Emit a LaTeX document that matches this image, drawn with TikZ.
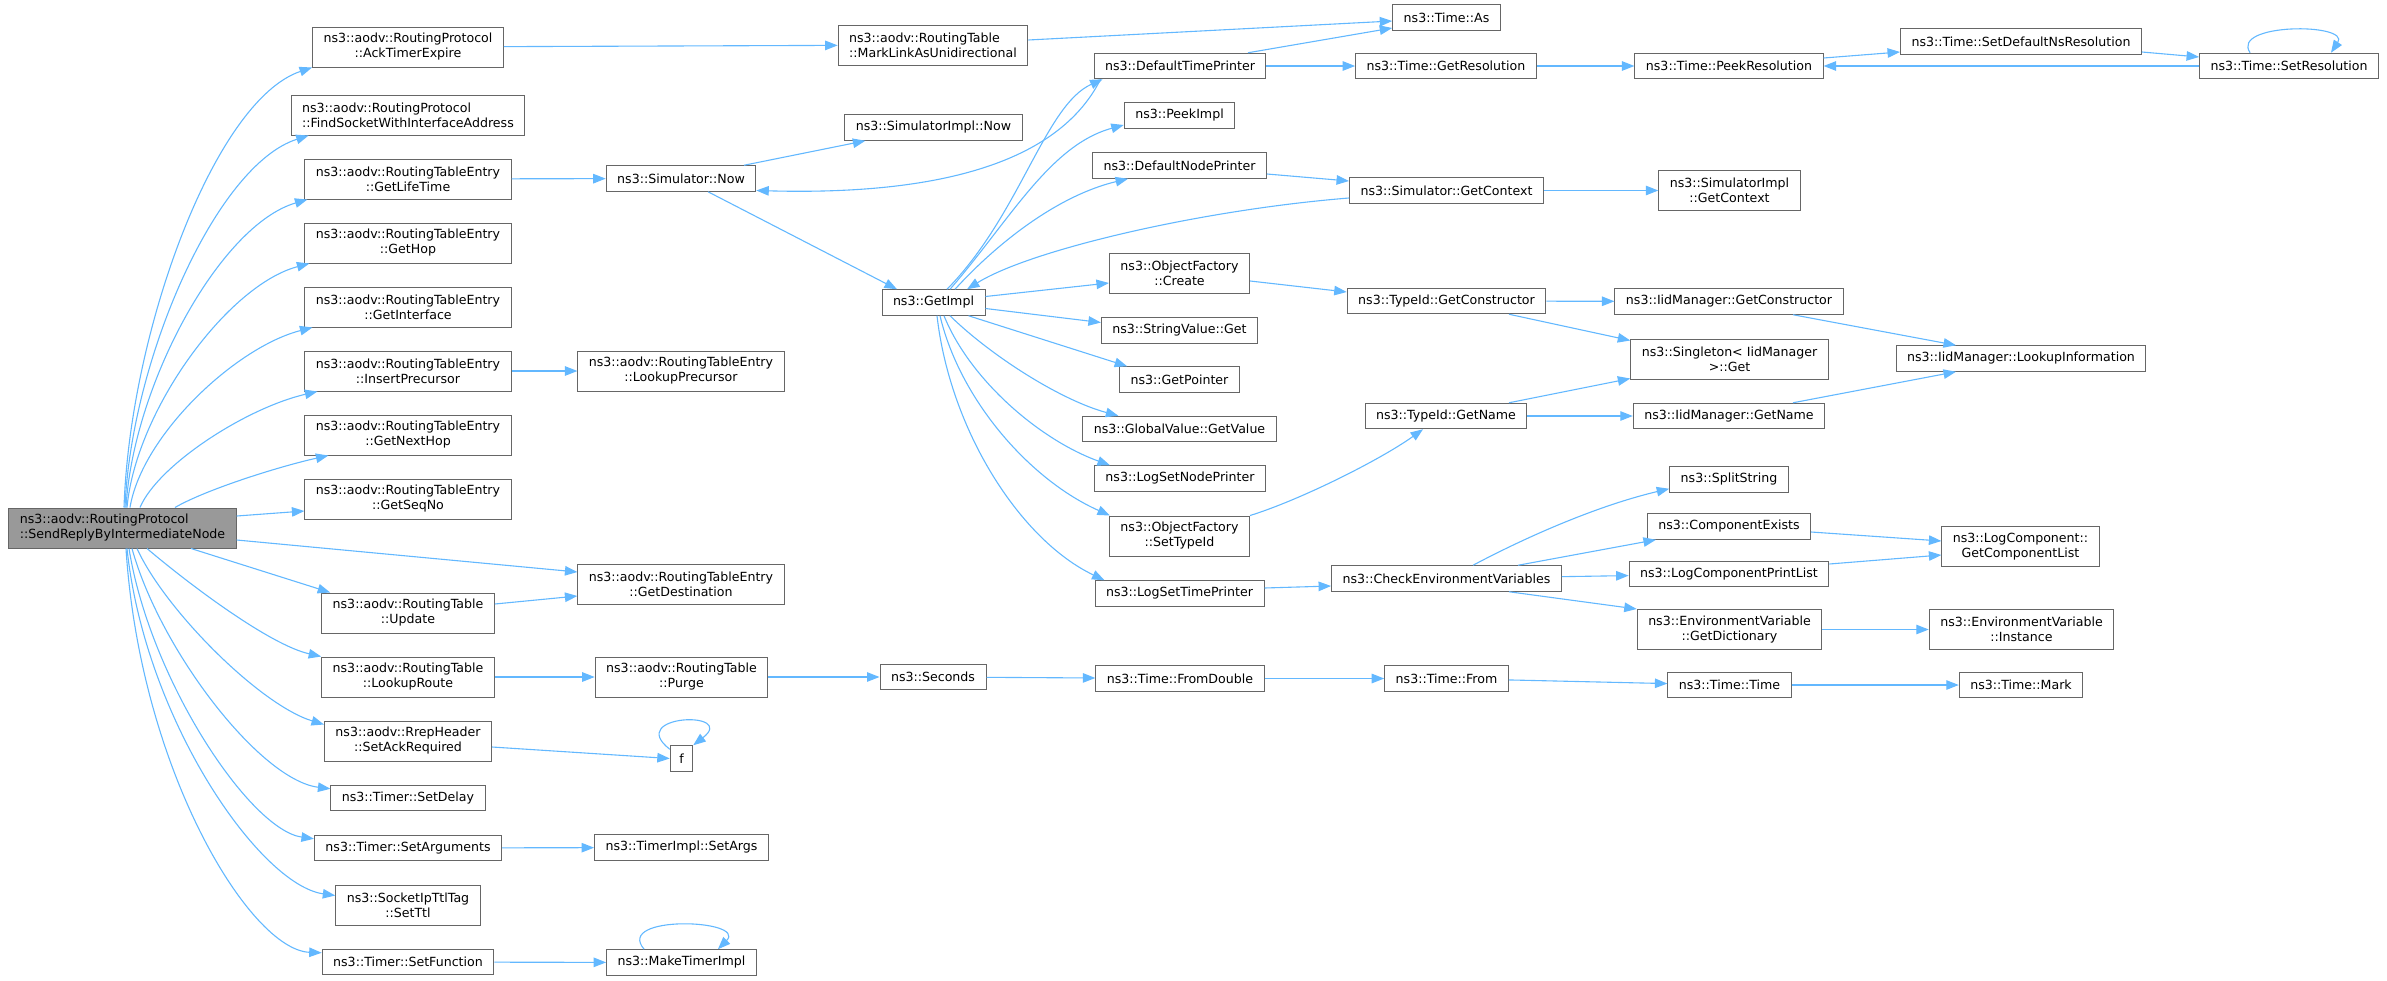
\documentclass[tikz,border=0pt]{standalone}
\usepackage{fontspec}
\setmainfont{DejaVu Sans}
\usetikzlibrary{arrows.meta}
\definecolor{edgeblue}{HTML}{63B8FF}
\definecolor{nodeborder}{HTML}{666666}
\definecolor{rootfill}{HTML}{999999}

\begin{document}
\begin{tikzpicture}[
    x=1pt, y=-1pt,
    func/.style={rectangle, draw=nodeborder, fill=white, line width=1pt, minimum height=25.5pt, inner xsep=11pt, inner ysep=2pt, align=center, font=\fontsize{12.6}{15}\selectfont},
    func2/.style={func, minimum height=40pt},
    leftfunc/.style={func2, align=left},
    focus/.style={leftfunc, fill=rootfill},
    arrow/.style={-{Triangle[length=12.5pt, width=9.5pt]}, draw=edgeblue, line width=1.1pt}
]
\useasboundingbox (0,0) rectangle (2387,980);

% Root function
\node[focus] (root) at (122.5,528) {ns3::aodv::RoutingProtocol\\::SendReplyByIntermediateNode};

% Direct callees
\node[func2] (ackexp) at (408,47) {ns3::aodv::RoutingProtocol\\::AckTimerExpire};
\node[leftfunc] (findsock) at (408,115) {ns3::aodv::RoutingProtocol\\::FindSocketWithInterfaceAddress};
\node[func2] (lifetime) at (408,179) {ns3::aodv::RoutingTableEntry\\::GetLifeTime};
\node[func2] (gethop) at (408,243) {ns3::aodv::RoutingTableEntry\\::GetHop};
\node[func2] (getif) at (408,307) {ns3::aodv::RoutingTableEntry\\::GetInterface};
\node[func2] (insprec) at (408,371) {ns3::aodv::RoutingTableEntry\\::InsertPrecursor};
\node[func2] (nexthop) at (408,435) {ns3::aodv::RoutingTableEntry\\::GetNextHop};
\node[func2] (seqno) at (408,499) {ns3::aodv::RoutingTableEntry\\::GetSeqNo};
\node[func2] (update) at (408,613) {ns3::aodv::RoutingTable\\::Update};
\node[func2] (lookuproute) at (408,677) {ns3::aodv::RoutingTable\\::LookupRoute};
\node[func2] (setack) at (408,741) {ns3::aodv::RrepHeader\\::SetAckRequired};
\node[func] (setdelay) at (408,798) {ns3::Timer::SetDelay};
\node[func] (setargs) at (408,848) {ns3::Timer::SetArguments};
\node[func2] (setttl) at (408,905) {ns3::SocketIpTtlTag\\::SetTtl};
\node[func] (setfunc) at (408,962) {ns3::Timer::SetFunction};

% Second level
\node[leftfunc] (marklink) at (933,45) {ns3::aodv::RoutingTable\\::MarkLinkAsUnidirectional};
\node[func] (simnow) at (681,178.5) {ns3::Simulator::Now};
\node[func] (simimplnow) at (933.5,127.5) {ns3::SimulatorImpl::Now};
\node[func] (getimpl) at (933.5,302.5) {ns3::GetImpl};
\node[func2] (lookupprec) at (681,371) {ns3::aodv::RoutingTableEntry\\::LookupPrecursor};
\node[func2] (getdest) at (681,584) {ns3::aodv::RoutingTableEntry\\::GetDestination};
\node[func2] (purge) at (681.5,677) {ns3::aodv::RoutingTable\\::Purge};
\node[func, inner xsep=9pt] (f) at (681.5,758.5) {f};
\node[func] (timerimplsetargs) at (681.5,847.5) {ns3::TimerImpl::SetArgs};
\node[func] (maketimerimpl) at (681.5,962.5) {ns3::MakeTimerImpl};
\node[func] (seconds) at (933,677) {ns3::Seconds};

% Called from GetImpl
\node[func] (deftimeprinter) at (1180,66) {ns3::DefaultTimePrinter};
\node[func] (peekimpl) at (1179.5,115.5) {ns3::PeekImpl};
\node[func] (defnodeprinter) at (1179.5,165.5) {ns3::DefaultNodePrinter};
\node[func2] (ofcreate) at (1179.5,273) {ns3::ObjectFactory\\::Create};
\node[func] (stringget) at (1179.5,330.5) {ns3::StringValue::Get};
\node[func] (getpointer) at (1179.5,379.5) {ns3::GetPointer};
\node[func] (globalget) at (1179.5,429) {ns3::GlobalValue::GetValue};
\node[func] (logsetnode) at (1180,478.5) {ns3::LogSetNodePrinter};
\node[func2] (ofsettypeid) at (1179.5,536) {ns3::ObjectFactory\\::SetTypeId};
\node[func] (logsettime) at (1179.5,593.5) {ns3::LogSetTimePrinter};
\node[func] (fromdouble) at (1180,678.5) {ns3::Time::FromDouble};

% Fourth column
\node[func] (timeas) at (1446.5,17.5) {ns3::Time::As};
\node[func] (getres) at (1446,66) {ns3::Time::GetResolution};
\node[func] (simgetctx) at (1446.5,190.5) {ns3::Simulator::GetContext};
\node[func] (tidgetctor) at (1446.5,301) {ns3::TypeId::GetConstructor};
\node[func] (tidgetname) at (1446,416) {ns3::TypeId::GetName};
\node[func] (checkenv) at (1446.5,578.5) {ns3::CheckEnvironmentVariables};
\node[func] (timefrom) at (1446.5,678.5) {ns3::Time::From};

% Fifth column
\node[func] (peekres) at (1729,66) {ns3::Time::PeekResolution};
\node[func2] (simimplgetctx) at (1729.5,190.5) {ns3::SimulatorImpl\\::GetContext};
\node[func] (iidgetctor) at (1729,301.5) {ns3::IidManager::GetConstructor};
\node[func2] (singleton) at (1729.5,359) {ns3::Singleton< IidManager\\>::Get};
\node[func] (iidgetname) at (1729,416) {ns3::IidManager::GetName};
\node[func] (splitstring) at (1729,479.5) {ns3::SplitString};
\node[func] (compexists) at (1729,526.5) {ns3::ComponentExists};
\node[func] (logcompprint) at (1729,574) {ns3::LogComponentPrintList};
\node[func2] (getdict) at (1729.5,629.5) {ns3::EnvironmentVariable\\::GetDictionary};
\node[func] (timetime) at (1729.5,685) {ns3::Time::Time};

% Last columns
\node[func] (setdefns) at (2021,41.5) {ns3::Time::SetDefaultNsResolution};
\node[func] (lookupinfo) at (2021,358.5) {ns3::IidManager::LookupInformation};
\node[func2] (getcomplist) at (2020.5,546.5) {ns3::LogComponent::\\GetComponentList};
\node[func2] (envinstance) at (2021.5,629.5) {ns3::EnvironmentVariable\\::Instance};
\node[func] (timemark) at (2021,685) {ns3::Time::Mark};
\node[func] (setres) at (2289,66) {ns3::Time::SetResolution};

% Calls from the root, upwards
\draw[arrow] ([xshift=1.5pt]root.north) .. controls (130,330) and (215,100) .. (ackexp.south west);
\draw[arrow] ([xshift=2.5pt]root.north) .. controls (131,360) and (216,165) .. ([xshift=18pt]findsock.south west);
\draw[arrow] ([xshift=3.5pt]root.north) .. controls (133,385) and (220,225) .. ([xshift=3pt]lifetime.south west);
\draw[arrow] ([xshift=4.5pt]root.north) .. controls (136,410) and (228,285) .. ([xshift=5pt]gethop.south west);
\draw[arrow] ([xshift=7.5pt]root.north) .. controls (142,435) and (236,347) .. ([xshift=8pt]getif.south west);
\draw[arrow] ([xshift=17.5pt]root.north) .. controls (158,465) and (246,408) .. ([xshift=13pt]insprec.south west);
\draw[arrow] ([xshift=52.5pt]root.north) .. controls (205,490) and (277,467) .. ([xshift=24pt]nexthop.south west);
\draw[arrow] ([yshift=12pt]root.east) -- ([yshift=-12pt]seqno.west);
\draw[arrow] ([yshift=-12pt]root.east) -- ([yshift=12pt]getdest.west);

% Calls from the root, downwards
\draw[arrow] ([xshift=68.5pt]root.south) -- ([xshift=9pt]update.north west);
\draw[arrow] ([xshift=24.5pt]root.south) .. controls (190,585) and (270,645) .. (lookuproute.north west);
\draw[arrow] ([xshift=14.5pt]root.south) .. controls (165,610) and (260,705) .. ([yshift=-4pt]setack.north west);
\draw[arrow] ([xshift=9.5pt]root.south) .. controls (160,650) and (260,780) .. ([yshift=-4pt]setdelay.north west);
\draw[arrow] ([xshift=6.5pt]root.south) .. controls (150,680) and (250,830) .. ([yshift=-4pt]setargs.north west);
\draw[arrow] ([xshift=4.5pt]root.south) .. controls (145,720) and (260,885) .. ([yshift=-11pt]setttl.north west);
\draw[arrow] ([xshift=3.5pt]root.south) .. controls (140,770) and (250,950) .. ([yshift=-4pt]setfunc.north west);

% First level to second level
\draw[arrow] (ackexp) -- (marklink);
\draw[arrow] (lifetime) -- (simnow);
\draw[arrow] (insprec) -- (lookupprec);
\draw[arrow] ([yshift=9pt]update.east) -- ([yshift=-12pt]getdest.west);
\draw[arrow] (lookuproute) -- (purge);
\draw[arrow] ([yshift=-6pt]setack.east) -- (f.west);
\draw[arrow] (setargs) -- (timerimplsetargs);
\draw[arrow] (setfunc) -- (maketimerimpl);

% Self calls
\draw[arrow] ([yshift=-4pt]f.north west) .. controls +(-45,-35) and +(45,-35) .. (f.north east);
\draw[arrow] ([xshift=38pt]maketimerimpl.north west) .. controls +(-30,-35) and +(30,-30) .. ([xshift=-39pt]maketimerimpl.north east);
\draw[arrow] ([xshift=51pt]setres.north west) .. controls +(-20,-30) and +(20,-30) .. ([xshift=-48pt]setres.north east);

% Simulator and GetImpl
\draw[arrow] ([yshift=5pt]marklink.east) -- ([yshift=-3.5pt]timeas.west);
\draw[arrow] ([xshift=63pt]simnow.north) -- ([xshift=21pt]simimplnow.south west);
\draw[arrow] ([xshift=27pt]simnow.south) -- ([xshift=-36.5pt]getimpl.north);
\draw[arrow] ([xshift=7pt]deftimeprinter.south west) .. controls (1055,170) and (920,195) .. ([yshift=-12pt]simnow.east);
\draw[arrow] ([xshift=13.5pt]getimpl.north) .. controls (1020,215) and (1045,105) .. ([xshift=9pt]deftimeprinter.south west);
\draw[arrow] ([xshift=16.5pt]getimpl.north) .. controls (1010,220) and (1050,145) .. ([yshift=-9.5pt]peekimpl.west);
\draw[arrow] ([xshift=21.5pt]getimpl.north) .. controls (1000,240) and (1060,195) .. ([xshift=36pt]defnodeprinter.south west);
\draw[arrow] ([yshift=-7.5pt]simgetctx.west) .. controls (1200,210) and (1030,250) .. ([xshift=33.5pt]getimpl.north);
\draw[arrow] ([yshift=6pt]getimpl.east) -- ([yshift=-10pt]ofcreate.west);
\draw[arrow] ([yshift=-6pt]getimpl.east) -- ([yshift=8pt]stringget.west);
\draw[arrow] ([xshift=35pt]getimpl.south) -- ([xshift=8pt]getpointer.north west);
\draw[arrow] ([xshift=16.5pt]getimpl.south) .. controls (990,355) and (1060,400) .. ([xshift=36pt]globalget.north west);
\draw[arrow] ([xshift=10.5pt]getimpl.south) .. controls (970,380) and (1040,440) .. ([xshift=16pt]logsetnode.north west);
\draw[arrow] ([xshift=6.5pt]getimpl.south) .. controls (960,400) and (1030,480) .. ([xshift=1pt]ofsettypeid.north west);
\draw[arrow] ([xshift=3.5pt]getimpl.south) .. controls (950,430) and (1020,540) .. ([xshift=10pt]logsettime.north west);

% Time resolution chain
\draw[arrow] ([xshift=68pt]deftimeprinter.north) -- ([yshift=-10.5pt]timeas.west);
\draw[arrow] (deftimeprinter) -- (getres);
\draw[arrow] (getres) -- (peekres);
\draw[arrow] ([yshift=8pt]peekres.east) -- ([yshift=-10.5pt]setdefns.west);
\draw[arrow] ([yshift=-10.5pt]setdefns.east) -- ([yshift=9pt]setres.west);
\draw[arrow] (setres) -- (peekres);

% Context and type ids
\draw[arrow] ([yshift=-8.5pt]defnodeprinter.east) -- ([yshift=9.5pt]simgetctx.west);
\draw[arrow] (simgetctx) -- (simimplgetctx);
\draw[arrow] ([yshift=-8pt]ofcreate.east) -- ([yshift=9pt]tidgetctor.west);
\draw[arrow] (tidgetctor) -- (iidgetctor);
\draw[arrow] ([xshift=62.5pt]tidgetctor.south) -- ([yshift=-2pt]singleton.north west);
\draw[arrow] ([xshift=63pt]tidgetname.north) -- ([yshift=1pt]singleton.south west);
\draw[arrow] (tidgetname) -- (iidgetname);
\draw[arrow] ([xshift=64pt]iidgetctor.south) -- ([xshift=-65pt]lookupinfo.north);
\draw[arrow] ([xshift=64pt]iidgetname.north) -- ([xshift=-65pt]lookupinfo.south);
\draw[arrow] (ofsettypeid.north east) .. controls (1300,500) and (1380,460) .. ([xshift=-23pt]tidgetname.south);

% Logging
\draw[arrow] ([yshift=5.5pt]logsettime.east) -- ([yshift=-7.5pt]checkenv.west);
\draw[arrow] ([xshift=26.5pt]checkenv.north) .. controls (1530,535) and (1600,505) .. ([yshift=4pt]splitstring.south west);
\draw[arrow] ([xshift=71.5pt]checkenv.north) -- ([xshift=9pt]compexists.south west);
\draw[arrow] (checkenv) -- (logcompprint);
\draw[arrow] ([xshift=62.5pt]checkenv.south) -- (getdict.north west);
\draw[arrow] ([yshift=-5.5pt]compexists.east) -- ([yshift=5.5pt]getcomplist.west);
\draw[arrow] ([yshift=10pt]logcompprint.east) -- ([yshift=-8.5pt]getcomplist.west);
\draw[arrow] (getdict) -- (envinstance);

% Purge chain
\draw[arrow] (purge) -- (seconds);
\draw[arrow] (seconds) -- (fromdouble);
\draw[arrow] (fromdouble) -- (timefrom);
\draw[arrow] (timefrom) -- (timetime);
\draw[arrow] (timetime) -- (timemark);

\end{tikzpicture}
\end{document}
